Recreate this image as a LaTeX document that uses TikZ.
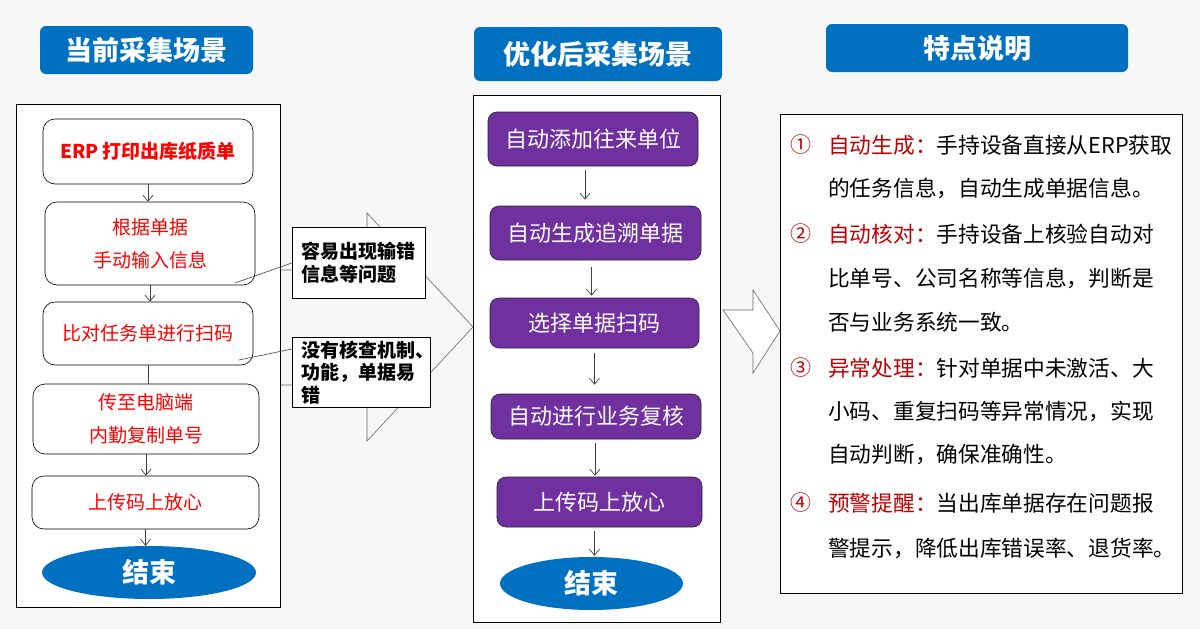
\documentclass[tikz,border=0pt]{standalone}
\usepackage{fontspec}
\setmainfont{Noto Sans CJK SC}
\usetikzlibrary{shapes.geometric,arrows.meta,calc}

\definecolor{headblue}{HTML}{0070C0}
\definecolor{stepviolet}{HTML}{7030A0}
\definecolor{oldred}{HTML}{FF0000}
\definecolor{featred}{HTML}{C00000}
\definecolor{pagegrey}{HTML}{F7F7F7}
\definecolor{linegrey}{HTML}{404040}

\begin{document}
\begin{tikzpicture}[
    x=1pt,
    y=-1pt,
    >={Straight Barb[length=6pt,width=10pt]},
    header/.style={
        fill=headblue,
        rounded corners=6pt,
        text=white,
        inner sep=0pt,
        font=\fontsize{27}{27}\selectfont\bfseries
    },
    panel/.style={
        draw=black,
        fill=white,
        line width=0.8pt
    },
    oldstep/.style={
        draw=black,
        fill=white,
        line width=0.6pt,
        rounded corners=12pt,
        inner sep=0pt,
        text=oldred,
        align=center,
        font=\fontsize{19}{33}\selectfont
    },
    newstep/.style={
        draw=black!85,
        fill=stepviolet,
        line width=0.6pt,
        rounded corners=9pt,
        inner sep=0pt,
        text=white,
        font=\fontsize{22}{22}\selectfont
    },
    finish/.style={
        ellipse,
        fill=headblue,
        inner sep=0pt,
        text=white,
        font=\fontsize{27}{27}\selectfont\bfseries
    },
    note/.style={
        draw=black,
        fill=white,
        line width=0.8pt,
        anchor=north west,
        align=left,
        inner xsep=9pt,
        inner ysep=0pt,
        font=\fontsize{19}{22.5}\selectfont\bfseries
    },
    flow/.style={
        ->,
        draw=linegrey,
        line width=0.7pt
    },
    pointer/.style={
        draw=linegrey,
        line width=0.6pt
    },
    bigarrow/.style={
        draw=black!60,
        line width=0.6pt,
        line join=miter
    },
    featline/.style={
        anchor=west,
        inner sep=0pt,
        font=\fontsize{21.7}{21.7}\selectfont
    },
    featnum/.style={
        inner sep=0pt,
        text=featred,
        font=\fontsize{21}{21}\selectfont
    }
]

% Page size and background
\useasboundingbox (0,0) rectangle (1200,629);
\fill[pagegrey] (0,0) rectangle (1200,629);

% ==================================================
% Block arrows between the panels
% ==================================================

\draw[bigarrow] (280,270) -- (367,270) -- (367,213) -- (473,327)
    -- (367,441) -- (367,385) -- (280,385);

\draw[bigarrow, fill=white] (723,310) -- (753,310) -- (753,290) -- (780,331)
    -- (753,373) -- (753,353) -- cycle;

% ==================================================
% Headers
% ==================================================

\node[header, minimum width=213pt, minimum height=48pt] (hdrNow) at (146.5,50)
    {当前采集场景};
\node[header, minimum width=248pt, minimum height=54pt] (hdrNew) at (598,54)
    {优化后采集场景};
\node[header, minimum width=302pt, minimum height=48pt] (hdrFeat) at (977,48)
    {特点说明};

% ==================================================
% Current process (left)
% ==================================================

\draw[panel] (16,104) rectangle (280,607);

\node[oldstep, minimum width=210pt, minimum height=65pt,
      font=\fontsize{19}{19}\selectfont\bfseries] (nowA) at (148,151.5)
    {ERP 打印出库纸质单};
\node[oldstep, minimum width=210pt, minimum height=83pt] (nowB) at (150,243.5)
    {根据单据\\手动输入信息};
\node[oldstep, minimum width=210pt, minimum height=63pt] (nowC) at (148,333.5)
    {比对任务单进行扫码};
\node[oldstep, minimum width=226pt, minimum height=70pt] (nowD) at (146,419)
    {传至电脑端\\内勤复制单号};
\node[oldstep, minimum width=227pt, minimum height=53pt] (nowE) at (145.5,502.5)
    {上传码上放心};
\node[finish, minimum width=214pt, minimum height=53pt] (nowEnd) at (149,572.5)
    {结束};

\draw[flow] (nowA.south) -- (nowA.south |- nowB.north);
\draw[flow] (nowB.south) -- (nowB.south |- nowC.north);
\draw[flow, -] (nowC.south) -- (nowC.south |- nowD.north);
\draw[flow] (nowD.south) -- (nowD.south |- nowE.north);
\draw[flow] (nowE.south) -- (nowE.south |- nowEnd.north);

% Problems of the current process
\node[note, minimum width=133pt, minimum height=71pt, text width=115pt] (noteA)
    at (292,227) {容易出现输错\\信息等问题};
\node[note, minimum width=138pt, minimum height=70pt, text width=120pt] (noteB)
    at (292,337) {没有核查机制、\\功能，单据易\\错};

\coordinate (tailA) at (235,283);
\coordinate (tailB) at (239,360);
\draw[pointer] (tailA) -- (noteA.west);
\draw[pointer] (tailB) -- ($(noteB.north west)+(0,12)$);

% ==================================================
% Optimised process (middle)
% ==================================================

\draw[panel] (473,95) rectangle (720,622);

\node[newstep, minimum width=210pt, minimum height=54pt] (newA) at (593,139)
    {自动添加往来单位};
\node[newstep, minimum width=211pt, minimum height=54pt] (newB) at (595.5,233)
    {自动生成追溯单据};
\node[newstep, minimum width=209pt, minimum height=50pt] (newC) at (594.5,323)
    {选择单据扫码};
\node[newstep, minimum width=210pt, minimum height=45pt] (newD) at (596,416.5)
    {自动进行业务复核};
\node[newstep, minimum width=205pt, minimum height=50pt] (newE) at (599.5,502)
    {上传码上放心};
\node[finish, minimum width=183pt, minimum height=53pt] (newEnd) at (591.5,583.5)
    {结束};

\draw[flow, shorten <=4pt, shorten >=6pt]
    ([xshift=-8pt]newA.south) -- ([xshift=-8pt]newA.south |- newB.north);
\draw[flow, shorten <=7pt, shorten >=2pt]
    ([xshift=-4pt]newB.south) -- ([xshift=-4pt]newB.south |- newC.north);
\draw[flow, shorten <=5pt, shorten >=9pt]
    (newC.south) -- (newC.south |- newD.north);
\draw[flow, shorten <=4pt, shorten >=1pt]
    ([xshift=-1pt]newD.south) -- ([xshift=-1pt]newD.south |- newE.north);
\draw[flow, shorten <=4pt, shorten >=1pt]
    ([xshift=-5pt]newE.south) -- ([xshift=-5pt]newE.south |- newEnd.north);

% ==================================================
% Features (right)
% ==================================================

\draw[panel] (780,114) rectangle (1182,593);

\node[featnum] (numA) at (801,145) {①};
\node[featnum] (numB) at (801,234) {②};
\node[featnum] (numC) at (801,368) {③};
\node[featnum] (numD) at (801,503) {④};

\node[featline] (featA1) at (828,145)
    {{\color{featred}自动生成：}手持设备直接从ERP获取};
\node[featline] (featA2) at (828,188)
    {的任务信息，自动生成单据信息。};
\node[featline] (featB1) at (828,234)
    {{\color{featred}自动核对：}手持设备上核验自动对};
\node[featline] (featB2) at (828,278)
    {比单号、公司名称等信息，判断是};
\node[featline] (featB3) at (828,322)
    {否与业务系统一致。};
\node[featline] (featC1) at (828,368)
    {{\color{featred}异常处理：}针对单据中未激活、大};
\node[featline] (featC2) at (828,411)
    {小码、重复扫码等异常情况，实现};
\node[featline] (featC3) at (828,455)
    {自动判断，确保准确性。};
\node[featline] (featD1) at (828,503)
    {{\color{featred}预警提醒：}当出库单据存在问题报};
\node[featline] (featD2) at (828,548)
    {警提示，降低出库错误率、退货率。};

\end{tikzpicture}
\end{document}
